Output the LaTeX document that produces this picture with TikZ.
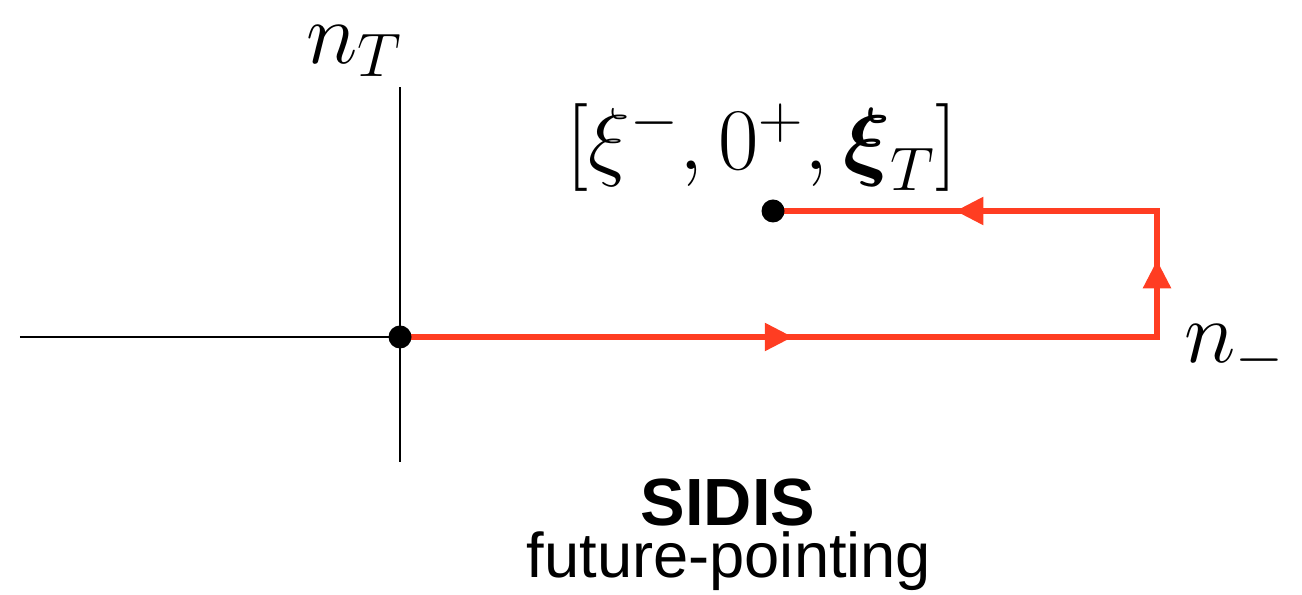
\RequirePackage{fix-cm}
\documentclass[tikz,border=0pt]{standalone}
\usepackage{amsmath}
\usepackage{fontspec}
\setsansfont{Liberation Sans}
\usetikzlibrary{arrows.meta, decorations.markings}
\definecolor{ink}{HTML}{000000}
\definecolor{link}{HTML}{FF3D22}
\tikzset{
  every node/.style = {text=ink},
  axis/.style     = {draw=ink, line width=0.45pt},
  wline/.style    = {draw=link, line width=1.6pt, line join=miter},
  wtips/.style    = {postaction={decorate}, decoration={markings,
                     mark=at position 0.310 with {\arrow{Triangle[length=2.8mm,width=2.7mm]}},
                     mark=at position 0.658 with {\arrow{Triangle[length=2.8mm,width=2.7mm]}},
                     mark=at position 0.856 with {\arrow{Triangle[length=2.8mm,width=2.7mm]}}}},
  dot/.style      = {circle, fill=ink, inner sep=0pt, minimum size=2.3mm},
  mlab/.style     = {font=\fontsize{25}{30}\selectfont, inner sep=0pt},
  ttl/.style      = {font=\sffamily\bfseries\fontsize{19}{22}\selectfont, inner sep=0pt},
  sub/.style      = {font=\sffamily\fontsize{18}{22}\selectfont, inner sep=0pt},
}

\begin{document}
\begin{tikzpicture}
\useasboundingbox (0,0) rectangle (13.02,5.95);

% axes
\coordinate (o)  at (4.00,2.58);
\coordinate (xl) at (0.20,2.58);
\coordinate (yt) at (4.00,5.08);
\coordinate (yb) at (4.00,1.33);
\draw[axis] (xl) -- (o);
\draw[axis] (yb) -- (yt);

% staple link
\coordinate (c1) at (11.57,2.58);
\coordinate (c2) at (11.57,3.84);
\coordinate (xi) at (7.73,3.84);
\draw[wline, wtips, link] (o) -- (c1) -- (c2) -- (xi);

\node[dot] (od) at (o) {};
\node[dot] (xd) at (xi) {};

% labels
\node[mlab] (nt) at (3.55,5.44) {$n_T$};
\node[mlab] (nm) at (12.35,2.42) {$n_-$};
\node[mlab] (pt) at (7.62,4.48) {$[\xi^-,0^+,\boldsymbol{\xi}_T]$};

\node[ttl] (ti) at (7.28,0.92) {SIDIS};
\node[sub] (st) at (7.29,0.34) {future-pointing};
\end{tikzpicture}
\end{document}
